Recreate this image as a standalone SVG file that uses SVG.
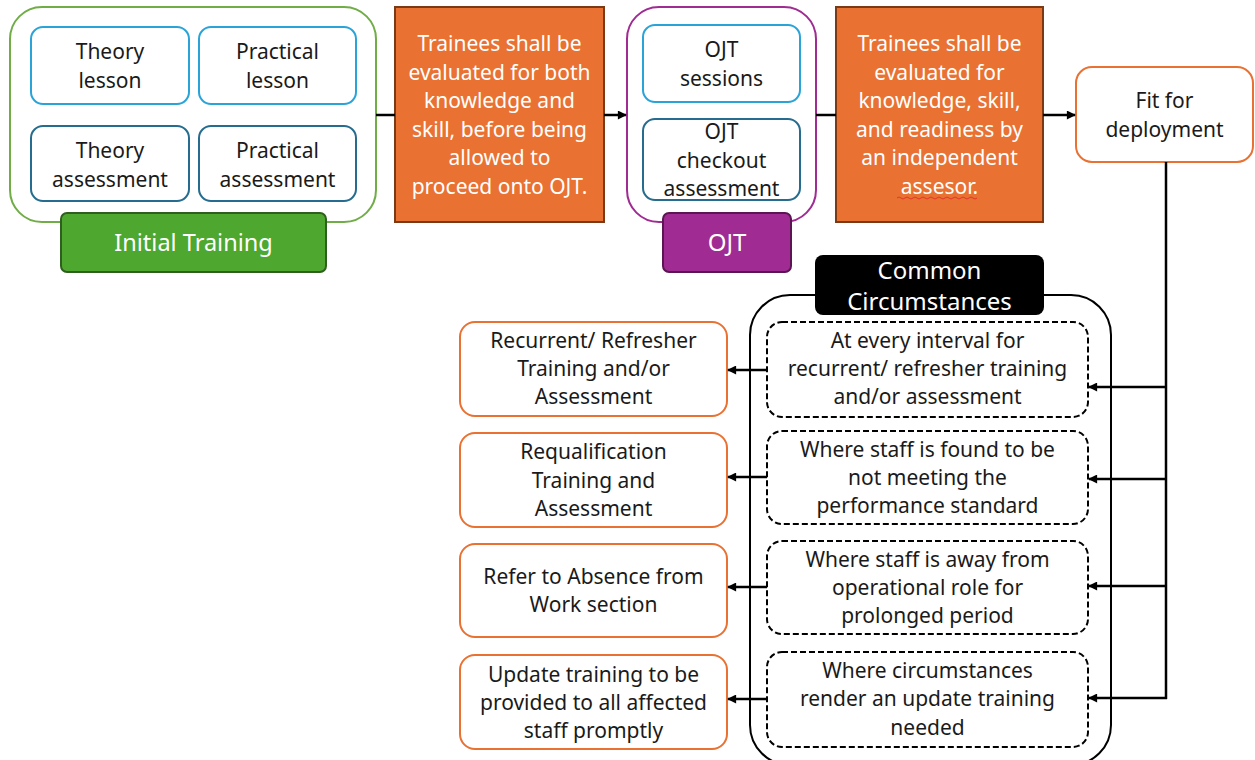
<svg xmlns="http://www.w3.org/2000/svg" width="1255" height="760" viewBox="0 0 1255 760">
  <style>
    text { font-family: "Noto Sans", "Liberation Sans", sans-serif; font-size: 21px; fill: #1a1a1a; text-anchor: middle; }
    .w { fill: #ffffff; }
    .lbl { font-size: 24px; fill: #ffffff; }
    .conn { stroke: #000; stroke-width: 2.5; fill: none; }
    .lesson { fill: #fff; stroke: #2AA4D8; stroke-width: 2; }
    .assess { fill: #fff; stroke: #266C8E; stroke-width: 2; }
    .eval { fill: #E97132; stroke: #7A3A16; stroke-width: 2; }
    .out { fill: #fff; stroke: #E97132; stroke-width: 2; }
    .cond { fill: #fff; stroke: #000; stroke-width: 2; stroke-dasharray: 6 3; }
  </style>
  <defs>
    <marker id="arrow" viewBox="0 0 10 10" refX="9" refY="5" markerWidth="10" markerHeight="9" markerUnits="userSpaceOnUse" orient="auto">
      <path d="M0,0 L10,5 L0,10 z" fill="#000"/>
    </marker>
  </defs>

  <rect width="1255" height="760" fill="#fff"/>

  <!-- Initial training group -->
  <g id="initial-training">
    <rect x="10" y="7" width="366" height="215" rx="32" fill="#fff" stroke="#70AD47" stroke-width="2"/>
    <g id="theory-lesson">
      <rect class="lesson" x="31" y="27" width="158" height="77" rx="12"/>
      <text x="110" y="59">Theory</text>
      <text x="110" y="88">lesson</text>
    </g>
    <g id="practical-lesson">
      <rect class="lesson" x="199" y="27" width="157" height="77" rx="12"/>
      <text x="277.5" y="59">Practical</text>
      <text x="277.5" y="88">lesson</text>
    </g>
    <g id="theory-assessment">
      <rect class="assess" x="31" y="126" width="158" height="75" rx="12"/>
      <text x="110" y="158">Theory</text>
      <text x="110" y="187">assessment</text>
    </g>
    <g id="practical-assessment">
      <rect class="assess" x="199" y="126" width="157" height="75" rx="12"/>
      <text x="277.5" y="158">Practical</text>
      <text x="277.5" y="187">assessment</text>
    </g>
    <g id="initial-training-label">
      <rect x="61" y="213" width="265" height="59" rx="6" fill="#4EA72E" stroke="#2F5F1F" stroke-width="2"/>
      <text class="lbl" x="193.5" y="251" style="font-size:23.5px">Initial Training</text>
    </g>
  </g>

  <!-- Gate before OJT -->
  <g id="evaluation-1">
    <rect class="eval" x="395" y="7" width="209" height="215"/>
    <text class="w" x="499.5" y="51">Trainees shall be</text>
    <text class="w" x="499.5" y="80">evaluated for both</text>
    <text class="w" x="499.5" y="108">knowledge and</text>
    <text class="w" x="499.5" y="137">skill, before being</text>
    <text class="w" x="499.5" y="165">allowed to</text>
    <text class="w" x="499.5" y="194">proceed onto OJT.</text>
  </g>

  <!-- OJT group -->
  <g id="ojt">
    <rect x="627" y="7" width="189" height="215" rx="32" fill="#fff" stroke="#A02B93" stroke-width="2"/>
    <g id="ojt-sessions">
      <rect class="lesson" x="643" y="25" width="157" height="77" rx="12"/>
      <text x="721.5" y="57">OJT</text>
      <text x="721.5" y="86">sessions</text>
    </g>
    <g id="ojt-checkout">
      <rect class="assess" x="643" y="119" width="157" height="81" rx="12"/>
      <text x="721.5" y="139">OJT</text>
      <text x="721.5" y="168">checkout</text>
      <text x="721.5" y="196">assessment</text>
    </g>
    <g id="ojt-label">
      <rect x="663" y="213" width="128" height="59" rx="6" fill="#A02B93" stroke="#5A1552" stroke-width="2"/>
      <text class="lbl" x="727" y="251">OJT</text>
    </g>
  </g>

  <!-- Gate before deployment -->
  <g id="evaluation-2">
    <rect class="eval" x="836" y="7" width="207" height="215"/>
    <text class="w" x="939.5" y="51">Trainees shall be</text>
    <text class="w" x="939.5" y="80">evaluated for</text>
    <text class="w" x="939.5" y="108">knowledge, skill,</text>
    <text class="w" x="939.5" y="137">and readiness by</text>
    <text class="w" x="939.5" y="165">an independent</text>
    <text class="w" x="939.5" y="194">assesor.</text>
    <path d="M897,198 q2,-2 4,0 t4,0 t4,0 t4,0 t4,0 t4,0 t4,0 t4,0 t4,0 t4,0 t4,0 t4,0 t4,0 t4,0 t4,0 t4,0 t4,0 t4,0 t4,0 t4,0" fill="none" stroke="#E0362C" stroke-width="1"/>
  </g>

  <g id="fit-for-deployment">
    <rect class="out" x="1076" y="67" width="177" height="95" rx="16"/>
    <text x="1164.5" y="108">Fit for</text>
    <text x="1164.5" y="137">deployment</text>
  </g>

  <!-- Common circumstances container -->
  <g id="common-circumstances">
    <rect x="750" y="295" width="361" height="470" rx="40" fill="#fff" stroke="#000" stroke-width="2"/>
    <g id="common-label">
      <rect x="815" y="255" width="229" height="60" rx="8" fill="#000"/>
      <text class="lbl" x="929.5" y="279">Common</text>
      <text class="lbl" x="929.5" y="310">Circumstances</text>
    </g>
    <g id="cond-interval">
      <rect class="cond" x="767" y="322" width="321" height="95" rx="15"/>
      <text x="927.5" y="348">At every interval for</text>
      <text x="927.5" y="376">recurrent/ refresher training</text>
      <text x="927.5" y="404">and/or assessment</text>
    </g>
    <g id="cond-performance">
      <rect class="cond" x="767" y="431" width="321" height="93" rx="15"/>
      <text x="927.5" y="457">Where staff is found to be</text>
      <text x="927.5" y="485">not meeting the</text>
      <text x="927.5" y="513">performance standard</text>
    </g>
    <g id="cond-away">
      <rect class="cond" x="767" y="541" width="321" height="93" rx="15"/>
      <text x="927.5" y="567">Where staff is away from</text>
      <text x="927.5" y="595">operational role for</text>
      <text x="927.5" y="623">prolonged period</text>
    </g>
    <g id="cond-update">
      <rect class="cond" x="767" y="652" width="321" height="95" rx="15"/>
      <text x="927.5" y="678">Where circumstances</text>
      <text x="927.5" y="706">render an update training</text>
      <text x="927.5" y="735">needed</text>
    </g>
  </g>

  <!-- Outcomes -->
  <g id="out-recurrent">
    <rect class="out" x="460" y="322" width="267" height="94" rx="15"/>
    <text x="593.5" y="348">Recurrent/ Refresher</text>
    <text x="593.5" y="376">Training and/or</text>
    <text x="593.5" y="404">Assessment</text>
  </g>
  <g id="out-requalification">
    <rect class="out" x="460" y="433" width="267" height="94" rx="15"/>
    <text x="593.5" y="459">Requalification</text>
    <text x="593.5" y="488">Training and</text>
    <text x="593.5" y="516">Assessment</text>
  </g>
  <g id="out-absence">
    <rect class="out" x="460" y="544" width="267" height="93" rx="15"/>
    <text x="593.5" y="584">Refer to Absence from</text>
    <text x="593.5" y="612">Work section</text>
  </g>
  <g id="out-update">
    <rect class="out" x="460" y="655" width="267" height="94" rx="15"/>
    <text x="593.5" y="682">Update training to be</text>
    <text x="593.5" y="710">provided to all affected</text>
    <text x="593.5" y="738">staff promptly</text>
  </g>

  <!-- Connectors -->
  <g id="connectors">
    <line class="conn" x1="376" y1="115" x2="395" y2="115"/>
    <line class="conn" x1="604" y1="115" x2="626" y2="115" marker-end="url(#arrow)"/>
    <line class="conn" x1="816" y1="115" x2="836" y2="115"/>
    <line class="conn" x1="1043" y1="115" x2="1075" y2="115" marker-end="url(#arrow)"/>

    <line class="conn" x1="1166" y1="162" x2="1166" y2="699"/>
    <line class="conn" x1="1167" y1="387" x2="1089" y2="387" marker-end="url(#arrow)"/>
    <line class="conn" x1="1167" y1="479" x2="1089" y2="479" marker-end="url(#arrow)"/>
    <line class="conn" x1="1167" y1="586" x2="1089" y2="586" marker-end="url(#arrow)"/>
    <line class="conn" x1="1167" y1="698" x2="1089" y2="698" marker-end="url(#arrow)"/>

    <line class="conn" x1="767" y1="370" x2="728" y2="370" marker-end="url(#arrow)"/>
    <line class="conn" x1="767" y1="477" x2="728" y2="477" marker-end="url(#arrow)"/>
    <line class="conn" x1="767" y1="587" x2="728" y2="587" marker-end="url(#arrow)"/>
    <line class="conn" x1="767" y1="699" x2="728" y2="699" marker-end="url(#arrow)"/>
  </g>
</svg>
